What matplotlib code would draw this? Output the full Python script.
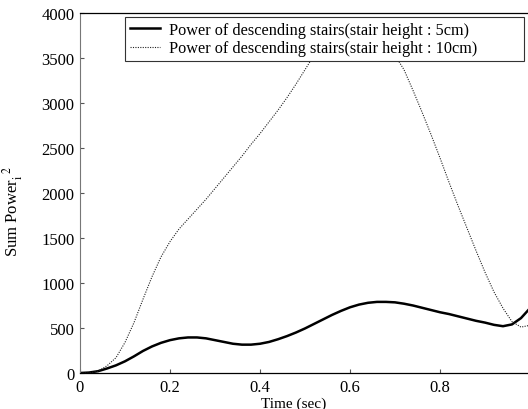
import matplotlib
matplotlib.use('Agg')
import matplotlib.pyplot as plt

plt.rcParams['font.family'] = ['Liberation Serif', 'DejaVu Serif']
plt.rcParams['mathtext.fontset'] = 'stix'

# time axis (sec)
t = [0.00, 0.02, 0.04, 0.06, 0.08, 0.10, 0.12, 0.14, 0.16, 0.18,
     0.20, 0.22, 0.24, 0.26, 0.28, 0.30, 0.32, 0.34, 0.36, 0.38,
     0.40, 0.42, 0.44, 0.46, 0.48, 0.50, 0.52, 0.54, 0.56, 0.58,
     0.60, 0.62, 0.64, 0.66, 0.68, 0.70, 0.72, 0.74, 0.76, 0.78,
     0.80, 0.82, 0.84, 0.86, 0.88, 0.90, 0.92, 0.94, 0.96, 0.98, 1.00]

# stair height 5cm
p5 = [0, 5, 20, 50, 85, 130, 185, 245, 295, 335,
      365, 385, 395, 395, 385, 365, 345, 325, 315, 315,
      325, 345, 375, 410, 450, 495, 545, 595, 645, 690,
      730, 760, 780, 790, 790, 785, 770, 750, 725, 700,
      675, 655, 630, 605, 580, 560, 535, 520, 540, 610, 720]

# stair height 10cm
p10 = [0, 0, 20, 80, 170, 340, 560, 820, 1070, 1290,
       1460, 1600, 1710, 1820, 1930, 2050, 2170, 2290, 2410, 2540,
       2660, 2790, 2920, 3060, 3210, 3370, 3530, 3670, 3770, 3830,
       3850, 3840, 3800, 3740, 3650, 3530, 3370, 3140, 2900, 2650,
       2390, 2120, 1860, 1610, 1360, 1120, 900, 720, 570, 510, 530]

fig = plt.figure(figsize=(5.28, 4.10), dpi=100)
ax = fig.add_axes([80 / 528, 1 - 374 / 410, 450 / 528, 360 / 410])

ax.plot(t, p5, color='black', linewidth=1.8,
        label='Power of descending stairs(stair height : 5cm)')
ax.plot(t, p10, color='#222222', linewidth=0.8, linestyle=(0, (1, 1.2)),
        label='Power of descending stairs(stair height : 10cm)')

ax.set_xlim(0, 1)
ax.set_ylim(0, 4000)
ax.set_xticks([0, 0.2, 0.4, 0.6, 0.8])
ax.set_xticklabels(['0', '0.2', '0.4', '0.6', '0.8'])
ax.set_yticks(range(0, 4001, 500))
ax.tick_params(direction='in', length=3, labelsize=12, pad=4, color='#555555')

for s in ['top', 'bottom']:
    ax.spines[s].set_color('black')
    ax.spines[s].set_linewidth(0.9)
ax.spines['left'].set_color('#777777')
ax.spines['left'].set_linestyle((0, (1, 1)))
ax.spines['left'].set_linewidth(0.8)
ax.spines['right'].set_color('#777777')

ax.set_xlabel('Time (sec)', fontsize=11, labelpad=1)
ax.xaxis.set_label_coords((294 - 80) / 450, -0.065)
ax.set_ylabel(r'Sum Power$_{\mathrm{i}}^{\ \ 2}$', fontsize=12)
ax.yaxis.set_label_coords(-0.122, (374 - 212) / 360)

leg = ax.legend(loc='upper left', bbox_to_anchor=(0.1, 0.0, 0.887, 0.989),
                mode='expand', fontsize=11.7,
                fancybox=False, framealpha=1, edgecolor='#333333',
                borderpad=0.3, labelspacing=0.15, handlelength=1.85,
                handletextpad=0.55, borderaxespad=0.0)
leg.get_frame().set_linewidth(0.8)

fig.savefig('out.png', dpi=100)
